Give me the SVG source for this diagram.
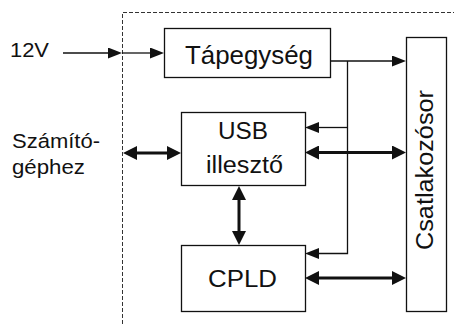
<svg xmlns="http://www.w3.org/2000/svg" width="454" height="324" viewBox="0 0 454 324">
  <style>
    .box { fill: #fff; stroke: #111; stroke-width: 1.3; }
    .lbl { font-family: "Liberation Sans", Arial, sans-serif; fill: #111; }
    .thin { fill: none; stroke: #111; stroke-width: 1.3; }
    .thick { fill: none; stroke: #111; stroke-width: 3; }
    .border { fill: none; stroke: #333; stroke-width: 1; stroke-dasharray: 4 2; }
  </style>
  <defs>
    <marker id="head" viewBox="0 0 14 11" refX="2" refY="5.5" markerWidth="14" markerHeight="11" markerUnits="userSpaceOnUse" orient="auto">
      <path d="M0,0 L14,5.5 L0,11 z" fill="#111"/>
    </marker>
    <marker id="headBold" viewBox="0 0 14 14" refX="2" refY="7" markerWidth="14" markerHeight="14" markerUnits="userSpaceOnUse" orient="auto-start-reverse">
      <path d="M0,0 L14,7 L0,14 z" fill="#111"/>
    </marker>
  </defs>

  <rect width="454" height="324" fill="#fff"/>

  <!-- device boundary -->
  <path class="border" d="M122.5,324 V12.5 H454"/>

  <!-- outside labels -->
  <text class="lbl" x="10" y="57" font-size="20.5" textLength="39" lengthAdjust="spacingAndGlyphs">12V</text>
  <text class="lbl" x="12" y="148" font-size="20.5" textLength="88" lengthAdjust="spacingAndGlyphs">Számító-</text>
  <text class="lbl" x="12" y="174" font-size="20.5" textLength="73" lengthAdjust="spacingAndGlyphs">géphez</text>

  <g id="tapegyseg">
    <rect class="box" x="164.5" y="28.5" width="166" height="49"/>
    <text class="lbl" x="185" y="64" font-size="26" textLength="128" lengthAdjust="spacingAndGlyphs">Tápegység</text>
  </g>

  <g id="usb">
    <rect class="box" x="181.5" y="112.5" width="124" height="73"/>
    <text class="lbl" x="218" y="139" font-size="23" textLength="50" lengthAdjust="spacingAndGlyphs">USB</text>
    <text class="lbl" x="206" y="173" font-size="23" textLength="77" lengthAdjust="spacingAndGlyphs">illesztő</text>
  </g>

  <g id="cpld">
    <rect class="box" x="181.5" y="245.5" width="124" height="66"/>
    <text class="lbl" x="208" y="287" font-size="24" textLength="69" lengthAdjust="spacingAndGlyphs">CPLD</text>
  </g>

  <g id="csatlakozosor">
    <rect class="box" x="406.5" y="37.5" width="40" height="274"/>
    <text class="lbl" transform="translate(433,250) rotate(-90)" font-size="23" textLength="160" lengthAdjust="spacingAndGlyphs">Csatlakozósor</text>
  </g>

  <g id="connectors">
    <!-- power input -->
    <path class="thin" d="M63,53 H110" marker-end="url(#head)"/>
    <path class="thin" d="M122,53 H152" marker-end="url(#head)"/>
    <!-- supply distribution -->
    <path class="thin" d="M331,61 H394" marker-end="url(#head)"/>
    <path class="thin" d="M347.5,61 V253.5 H317" marker-end="url(#head)"/>
    <path class="thin" d="M347.5,127.5 H317" marker-end="url(#head)"/>
    <!-- data links -->
    <path class="thick" d="M135,153 H169" marker-start="url(#headBold)" marker-end="url(#headBold)"/>
    <path class="thick" d="M317,152.5 H394" marker-start="url(#headBold)" marker-end="url(#headBold)"/>
    <path class="thick" d="M317,278 H394" marker-start="url(#headBold)" marker-end="url(#headBold)"/>
    <path class="thick" d="M239,198 V233" marker-start="url(#headBold)" marker-end="url(#headBold)"/>
  </g>
</svg>
